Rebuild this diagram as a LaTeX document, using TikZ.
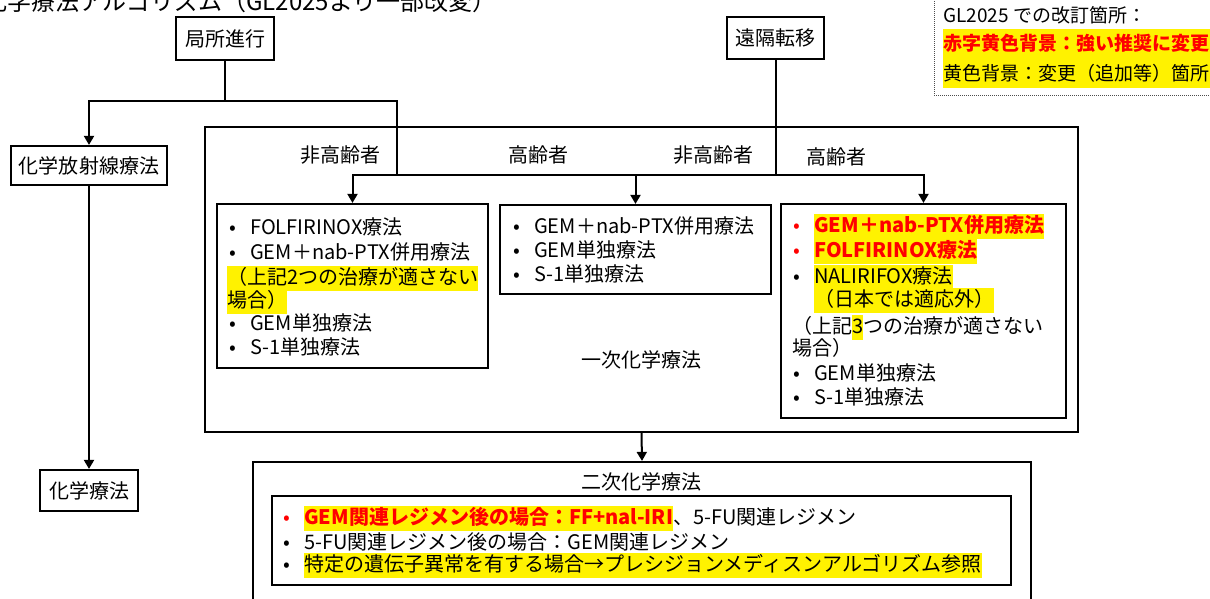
\documentclass[tikz,border=0pt]{standalone}
\usepackage{fontspec}
\setmainfont{Noto Sans CJK JP}
\usetikzlibrary{arrows.meta}
\newcommand\hlb[1]{{\setlength\fboxsep{0pt}\colorbox{yellow}{\rule[-0.32em]{0pt}{1.25em}#1}}}
\newcommand\bul{\makebox[21pt][l]{•}}
\newcommand\rbul{\makebox[21pt][l]{\textcolor{red}{•}}}
\begin{document}
\begin{tikzpicture}[x=1pt,y=-1pt,
  box/.style={draw, line width=2.2pt, inner sep=0pt},
  lbl/.style={anchor=base, inner sep=0pt, font=\fontsize{20}{24}\selectfont},
  txt/.style={anchor=base west, inner sep=0pt, font=\fontsize{20}{24}\selectfont},
  lg/.style={anchor=base west, inner sep=0pt, font=\fontsize{19}{23}\selectfont},
  conn/.style={line width=2pt},
  arr/.style={line width=2pt, -{Triangle[length=9pt,width=10pt]}}]
\useasboundingbox (0,0) rectangle (1210,598);
% title (cut off at top, as in the reference)
\node[anchor=base east, inner sep=0pt, font=\fontsize{24}{28}\selectfont] (title) at (497,10.5) {化学療法アルゴリズム（GL2025より一部改変）};
% legend
\draw[line width=1pt, black!70, dash pattern=on 1pt off 1pt] (934,-5) rectangle (1215,95);
\fill[yellow] (943,29) rectangle (1210,88);
\node[lg] (lg1) at (943,22) {GL2025 での改訂箇所：};
\node[lg] (lg2) at (943,50) {\bfseries\color{red}赤字黄色背景：強い推奨に変更};
\node[lg] (lg3) at (943,80) {黄色背景：変更（追加等）箇所};
% top boxes
\node[box, minimum width=98pt, minimum height=43pt] (kyo) at (225,38.5) {};
\node[lbl] at (225,46) {局所進行};
\node[box, minimum width=97pt, minimum height=42pt] (enk) at (775.5,38) {};
\node[lbl] at (775.5,45.5) {遠隔転移};
\node[box, minimum width=156pt, minimum height=39pt] (khs) at (89,165.5) {};
\node[lbl] at (89,173) {化学放射線療法};
\node[box, minimum width=98pt, minimum height=41pt] (kr) at (89,490.5) {};
\node[lbl] at (89,498) {化学療法};
% first-line outer box
\node[box, minimum width=873pt, minimum height=305pt] (out1) at (641.5,279.5) {};
\node[box, minimum width=271pt, minimum height=164pt] (b1) at (352.5,286) {};
\node[box, minimum width=271pt, minimum height=89pt] (b2) at (635.5,249.5) {};
\node[box, minimum width=285pt, minimum height=214pt] (b3) at (923.5,311) {};
\node[lbl] (l1) at (340,162.5) {非高齢者};
\node[lbl] (l2) at (538,162.5) {高齢者};
\node[lbl] (l3) at (713,162.5) {非高齢者};
\node[lbl] (l4) at (836,164.5) {高齢者};
\node[lbl] (l5) at (641,367.5) {一次化学療法};
% box1 text
\node[txt] (t11) at (229,234.5) {\bul FOLFIRINOX療法};
\node[txt] (t12) at (229,259.5) {\bul GEM＋nab-PTX併用療法};
\node[txt] (t13) at (227,284.5) {\hlb{（上記2つの治療が適さない}};
\node[txt] (t14) at (227,307.5) {\hlb{場合）}};
\node[txt] (t15) at (229,330.5) {\bul GEM単独療法};
\node[txt] (t16) at (229,354.5) {\bul S-1単独療法};
% box2 text
\node[txt] (t21) at (513,233.5) {\bul GEM＋nab-PTX併用療法};
\node[txt] (t22) at (513,257.5) {\bul GEM単独療法};
\node[txt] (t23) at (513,281.5) {\bul S-1単独療法};
% box3 text
\node[txt] (t31) at (793,232.5) {\rbul\hlb{\bfseries\color{red}GEM＋nab-PTX併用療法}};
\node[txt] (t32) at (793,257.5) {\rbul\hlb{\bfseries\color{red}FOLFIRINOX療法}};
\node[txt] (t33) at (793,283.5) {\bul\hlb{NALIRIFOX療法}};
\node[txt] (t34) at (814,306.5) {\hlb{（日本では適応外）}};
\node[txt] (t35) at (792,333.5) {（上記\hlb{3}つの治療が適さない};
\node[txt] (t36) at (792,355.5) {場合）};
\node[txt] (t37) at (793,380.5) {\bul GEM単独療法};
\node[txt] (t38) at (793,404.5) {\bul S-1単独療法};
% second-line
\node[box, minimum width=778pt, minimum height=180pt] (out2) at (642,552) {};
\node[lbl] (l6) at (641,489.5) {二次化学療法};
\node[box, minimum width=739pt, minimum height=89pt] (b4) at (641.5,540.5) {};
\node[txt] (t41) at (283,524.5) {\rbul\hlb{\bfseries\color{red}GEM関連レジメン後の場合：FF+nal-IRI}、5-FU関連レジメン};
\node[txt] (t42) at (283,549.5) {\bul 5-FU関連レジメン後の場合：GEM関連レジメン};
\node[txt] (t43) at (283,571.5) {\bul\hlb{特定の遺伝子異常を有する場合→プレシジョンメディスンアルゴリズム参照}};
% connectors
\coordinate (j1) at (225,101);
\coordinate (j2) at (397,174.5);
\coordinate (j3) at (775.5,174.5);
\draw[conn] (kyo.south) -- (j1);
\draw[arr] (j1) -| (khs.north);
\draw[arr] (j1) -| (j2) -| (b1.north);
\draw[conn] (j2) -- (j3);
\draw[conn] (enk.south) -- (j3);
\draw[arr] (j3) -| (b2.north);
\draw[arr] (j3) -| (b3.north);
\draw[arr] (khs.south) -- (kr.north);
\draw[arr] (out1.south) -- (out2.north);
\end{tikzpicture}
\end{document}
